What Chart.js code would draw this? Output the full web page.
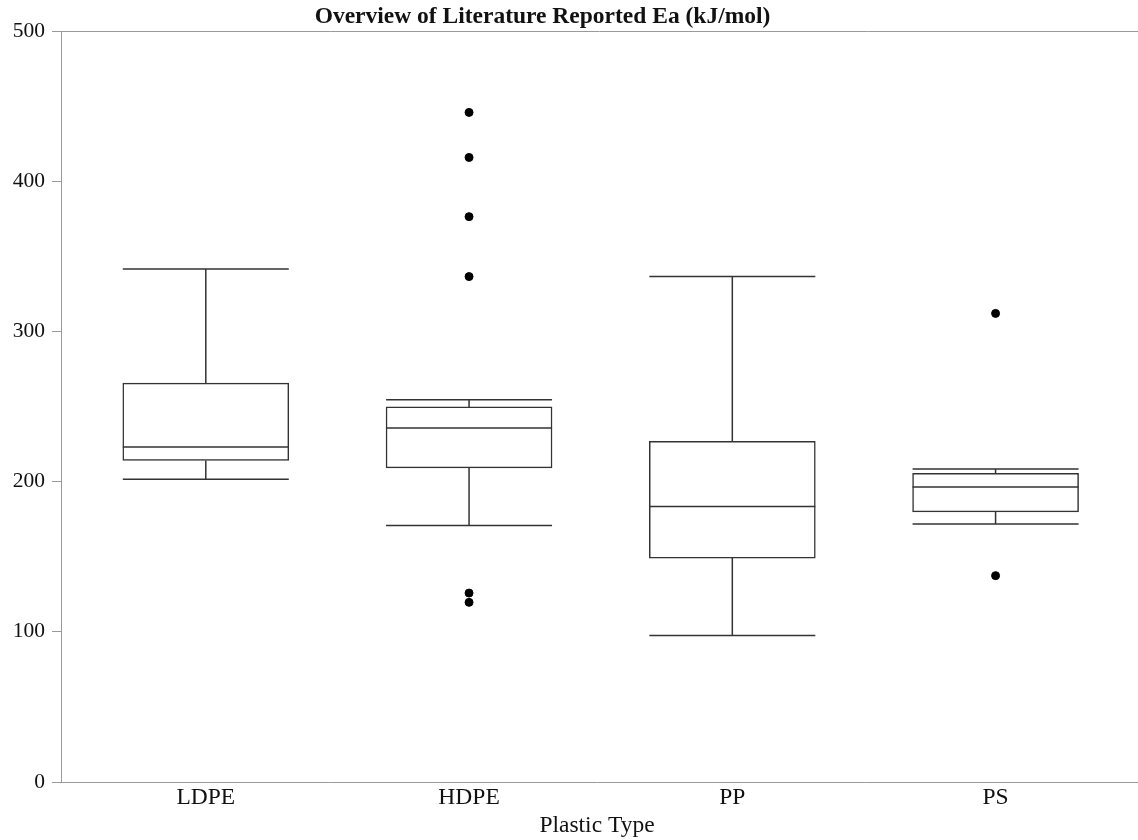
<!DOCTYPE html>
<html lang="en">
<head>
<meta charset="UTF-8">
<title>Overview of Literature Reported Ea</title>
<script src="https://cdn.jsdelivr.net/npm/chart.js"></script>
<style>
    body {
        margin: 0;
        background: #fff;
        font-family: "Liberation Serif", "Times New Roman", serif;
    }
    .wrap {
        position: relative;
        width: 1138px;
        height: 840px;
    }
    .title {
        position: absolute;
        left: 0;
        top: 1px;
        width: 1085px;
        text-align: center;
        font-weight: bold;
        font-size: 23.5px;
        line-height: 28px;
        color: #111;
    }
    canvas { display: block; }
</style>
</head>
<body>
<div class="wrap">
    <div class="title">Overview of Literature Reported Ea (kJ/mol)</div>
    <canvas id="boxChart" width="1138" height="840"></canvas>
</div>

<script>
// box plot values
const categories = ['LDPE', 'HDPE', 'PP', 'PS'];
const whiskerLow = [201.5, 170.8, 97.6, 171.8];
const q1 = [214.1, 209.1, 149.1, 179.8];
const median = [223.0, 235.7, 183.5, 196.4];
const q3 = [265.6, 249.7, 226.8, 205.5];
const whiskerHigh = [341.5, 254.5, 336.6, 208.4];

// outliers: category index + value
const outlierCat = [1, 1, 1, 1, 1, 1, 3, 3];
const outlierVal = [445.8, 415.8, 376.4, 336.5, 125.8, 119.6, 312.0, 137.4];

const yTicks = [0, 100, 200, 300, 400, 500];

const lineColor = '#333';
const axisColor = '#9a9a9a';

// whiskers, caps, medians and the frame lines out to the canvas edge
const boxExtras = {
    id: 'boxExtras',
    afterDatasetsDraw(chart) {
        const ctx = chart.ctx;
        const y = chart.scales.y;
        const meta = chart.getDatasetMeta(0);
        ctx.save();
        ctx.strokeStyle = lineColor;
        ctx.lineWidth = 1.5;
        meta.data.forEach((bar, i) => {
            const cx = bar.x;
            const half = bar.width / 2;
            const yLo = y.getPixelForValue(whiskerLow[i]);
            const yQ1 = y.getPixelForValue(q1[i]);
            const yMed = y.getPixelForValue(median[i]);
            const yQ3 = y.getPixelForValue(q3[i]);
            const yHi = y.getPixelForValue(whiskerHigh[i]);
            ctx.beginPath();
            ctx.moveTo(cx, yQ3); ctx.lineTo(cx, yHi);
            ctx.moveTo(cx, yQ1); ctx.lineTo(cx, yLo);
            ctx.moveTo(cx - half, yHi); ctx.lineTo(cx + half, yHi);
            ctx.moveTo(cx - half, yLo); ctx.lineTo(cx + half, yLo);
            ctx.moveTo(cx - half, yMed); ctx.lineTo(cx + half, yMed);
            ctx.stroke();
        });
        const area = chart.chartArea;
        ctx.strokeStyle = axisColor;
        ctx.lineWidth = 1;
        ctx.beginPath();
        ctx.moveTo(area.left, area.top + 0.5);
        ctx.lineTo(chart.width, area.top + 0.5);
        ctx.moveTo(area.right - 1, area.bottom + 0.5);
        ctx.lineTo(chart.width, area.bottom + 0.5);
        ctx.stroke();
        ctx.restore();
    }
};

const ctx = document.getElementById('boxChart').getContext('2d');
new Chart(ctx, {
    type: 'bar',
    data: {
        datasets: [{
            type: 'bar',
            data: categories.map((c, i) => ({ x: i, y: [q1[i], q3[i]] })),
            backgroundColor: '#fff',
            borderColor: lineColor,
            borderWidth: 1.5,
            borderSkipped: false,
            barThickness: 166
        }, {
            type: 'scatter',
            data: outlierVal.map((v, k) => ({ x: outlierCat[k], y: v })),
            backgroundColor: '#000',
            borderColor: '#000',
            pointRadius: 4,
            showLine: false
        }]
    },
    options: {
        responsive: false,
        animation: false,
        layout: { padding: { top: 31, right: 0, left: 0, bottom: 0 } },
        plugins: {
            legend: { display: false },
            tooltip: { enabled: false }
        },
        scales: {
            x: {
                type: 'linear',
                min: -0.55,
                max: 3.522,
                offset: false,
                afterBuildTicks: s => { s.ticks = categories.map((c, i) => ({ value: i })); },
                afterFit: s => { s.height = 58; },
                grid: { display: false, drawTicks: false },
                border: { color: axisColor, width: 1 },
                ticks: {
                    callback: v => categories[v],
                    color: '#111',
                    padding: 2,
                    maxRotation: 0,
                    autoSkip: false,
                    font: { family: 'Liberation Serif', size: 23.5 }
                },
                title: {
                    display: true,
                    text: 'Plastic Type',
                    color: '#111',
                    padding: { top: 0, bottom: 0 },
                    font: { family: 'Liberation Serif', size: 23.5 }
                }
            },
            y: {
                min: 0,
                max: 500,
                afterBuildTicks: s => { s.ticks = yTicks.map(v => ({ value: v })); },
                afterFit: s => { s.width = 61; },
                grid: { drawOnChartArea: false, drawTicks: true, tickLength: 9, color: axisColor },
                border: { color: axisColor, width: 1 },
                ticks: {
                    color: '#111',
                    padding: 7,
                    font: { family: 'Liberation Serif', size: 21.5 }
                }
            }
        }
    },
    plugins: [boxExtras]
});
</script>
</body>
</html>
